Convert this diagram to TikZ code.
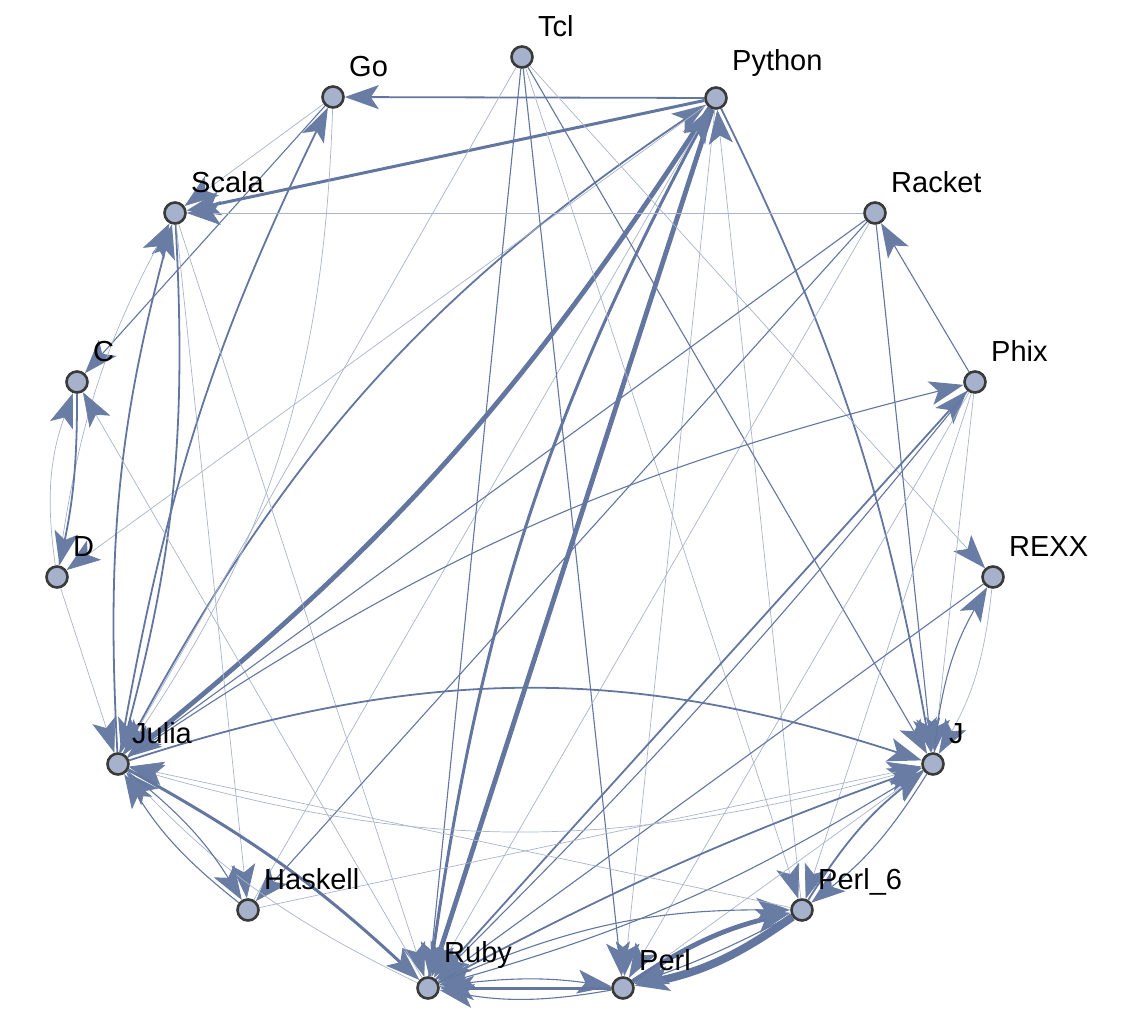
\documentclass[tikz,border=0pt]{standalone}
\usepackage{fontspec}
\setmainfont{Liberation Sans}
\usetikzlibrary{arrows.meta}
\pgfdeclarelayer{bg}
\pgfsetlayers{bg,main}
\definecolor{vfill}{RGB}{166,178,203}
\definecolor{vline}{RGB}{58,58,58}
\definecolor{ec}{RGB}{98,118,160}
\definecolor{ecl}{RGB}{168,180,204}
\definecolor{ah}{RGB}{104,124,164}
\tikzset{
  vtx/.style={circle, draw=vline, line width=2.6pt, fill=vfill, minimum size=21pt, inner sep=0pt},
  lbl/.style={anchor=base west, inner sep=0pt, font=\fontsize{29}{34}\selectfont},
  e/.style={draw=ec, -{Stealth[length=34pt,width=24pt,inset=8pt,color=ah]}},
  wt/.style={line width=0.7pt, draw=ecl},
  wm/.style={line width=1.1pt},
  wM/.style={line width=1.8pt},
  wT/.style={line width=3pt},
  wTT/.style={line width=4.8pt},
  wX/.style={line width=8pt},
}
\begin{document}
\begin{tikzpicture}[x=1pt,y=-1pt]
\useasboundingbox (0,0) rectangle (1130,1034);
% vertices
\node[vtx] (Tcl) at (522,57) {};
\node[vtx] (Python) at (716,98) {};
\node[vtx] (Go) at (333,97) {};
\node[vtx] (Scala) at (175,213) {};
\node[vtx] (Racket) at (875,213) {};
\node[vtx] (C) at (77,382) {};
\node[vtx] (Phix) at (975,382) {};
\node[vtx] (D) at (57,577) {};
\node[vtx] (REXX) at (993,577) {};
\node[vtx] (Julia) at (118,764) {};
\node[vtx] (J) at (933,764) {};
\node[vtx] (Haskell) at (248,910) {};
\node[vtx] (Perl6) at (802,910) {};
\node[vtx] (Ruby) at (428,988) {};
\node[vtx] (Perl) at (623,988) {};
% labels
\node[lbl] (lTcl) at (538,36) {Tcl};
\node[lbl] (lPython) at (732,70) {Python};
\node[lbl] (lGo) at (349,76) {Go};
\node[lbl] (lScala) at (191,192) {Scala};
\node[lbl] (lRacket) at (891,192) {Racket};
\node[lbl] (lC) at (93,361) {C};
\node[lbl] (lPhix) at (991,361) {Phix};
\node[lbl] (lD) at (73,556) {D};
\node[lbl] (lREXX) at (1009,556) {REXX};
\node[lbl] (lJulia) at (132,743) {Julia};
\node[lbl] (lJ) at (949,743) {J};
\node[lbl] (lHaskell) at (264,889) {Haskell};
\node[lbl] (lPerl6) at (818,889) {Perl\_6};
\node[lbl] (lRuby) at (444,962) {Ruby};
\node[lbl] (lPerl) at (639,970) {Perl};
% edges
\begin{pgfonlayer}{bg}
% Python
\draw[e,wM] (Python) -- (Go);
\draw[e,wT] (Python) -- (Scala);
\draw[e,wM] (Python) to[bend left=8] (J);
\draw[e,wTT] (Python) -- (Ruby);
\draw[e,wT] (Ruby) to[bend left=10] (Python);
\draw[e,wTT] (Python) to[bend left=9] (Julia);
\draw[e,wM] (Julia) to[bend left=14] (Python);
\draw[e,wt] (Python) -- (D);
\draw[e,wt] (Python) -- (Perl);
\draw[e,wt] (Perl6) -- (Python);
\draw[e,wt] (Haskell) -- (Python);
% Tcl
\draw[e,wt] (Tcl) -- (Julia);
\draw[e,wm] (Tcl) -- (Ruby);
\draw[e,wm] (Tcl) -- (Perl);
\draw[e,wt] (Tcl) -- (Perl6);
\draw[e,wm] (Tcl) -- (J);
\draw[e,wt] (Tcl) -- (REXX);
% Go
\draw[e,wm] (Go) -- (C);
\draw[e,wt] (Go) -- (Scala);
\draw[e,wM] (Julia) to[bend left=8] (Go);
\draw[e,wt] (Go) to[bend left=16] (Julia);
% Scala
\draw[e,wM] (Scala) to[bend left=9] (Julia);
\draw[e,wM] (Julia) to[bend left=9] (Scala);
\draw[e,wt] (Racket) -- (Scala);
\draw[e,wt] (D) to[bend left=10] (Scala);
\draw[e,wt] (Scala) -- (Ruby);
\draw[e,wt] (Scala) -- (Haskell);
% C, D
\draw[e,wM] (C) to[bend left=6] (D);
\draw[e,wt] (D) to[bend left=14] (C);
\draw[e,wt] (Ruby) -- (C);
\draw[e,wt] (D) -- (Julia);
% Racket
\draw[e,wm] (Phix) -- (Racket);
\draw[e,wm] (Racket) -- (J);
\draw[e,wm] (Racket) -- (Julia);
\draw[e,wt] (Racket) -- (Ruby);
\draw[e,wm] (Racket) -- (Haskell);
% Phix
\draw[e,wm] (Julia) to[bend left=10] (Phix);
\draw[e,wM] (Ruby) -- (Phix);
\draw[e,wm] (Phix) to[bend left=3] (Ruby);
\draw[e,wt] (Phix) -- (J);
\draw[e,wt] (Phix) -- (Perl);
\draw[e,wt] (Phix) -- (Perl6);
% REXX
\draw[e,wm] (J) to[bend left=12] (REXX);
\draw[e,wt] (REXX) to[bend left=12] (J);
\draw[e,wm] (REXX) -- (Ruby);
% J
\draw[e,wM] (Julia) to[bend left=18] (J);
\draw[e,wt] (J) to[bend left=16] (Julia);
\draw[e,wM] (Ruby) to[bend left=4] (J);
\draw[e,wm] (J) to[bend left=8] (Ruby);
\draw[e,wt] (Perl) -- (J);
\draw[e,wM] (Perl6) to[bend left=10] (J);
\draw[e,wm] (J) to[bend left=10] (Perl6);
\draw[e,wt] (Haskell) -- (J);
% Perl_6, Perl, Ruby
\draw[e,wTT] (Perl) to[bend left=10] (Perl6);
\draw[e,wX] (Perl6) to[bend left=12] (Perl);
\draw[e,wm] (Perl6) to[bend left=4] (Perl);
\draw[e,wm] (Ruby) to[bend left=12] (Perl6);
\draw[e,wt] (Perl6) -- (Julia);
\draw[e,wm] (Ruby) to[bend left=8] (Perl);
\draw[e,wT] (Perl) -- (Ruby);
\draw[e,wm] (Perl) to[bend left=10] (Ruby);
% Julia, Haskell
\draw[e,wT] (Julia) to[bend left=7] (Ruby);
\draw[e,wt] (Ruby) to[bend left=10] (Julia);
\draw[e,wm] (Julia) to[bend left=10] (Haskell);
\draw[e,wm] (Haskell) to[bend left=10] (Julia);
\end{pgfonlayer}
\end{tikzpicture}
\end{document}
